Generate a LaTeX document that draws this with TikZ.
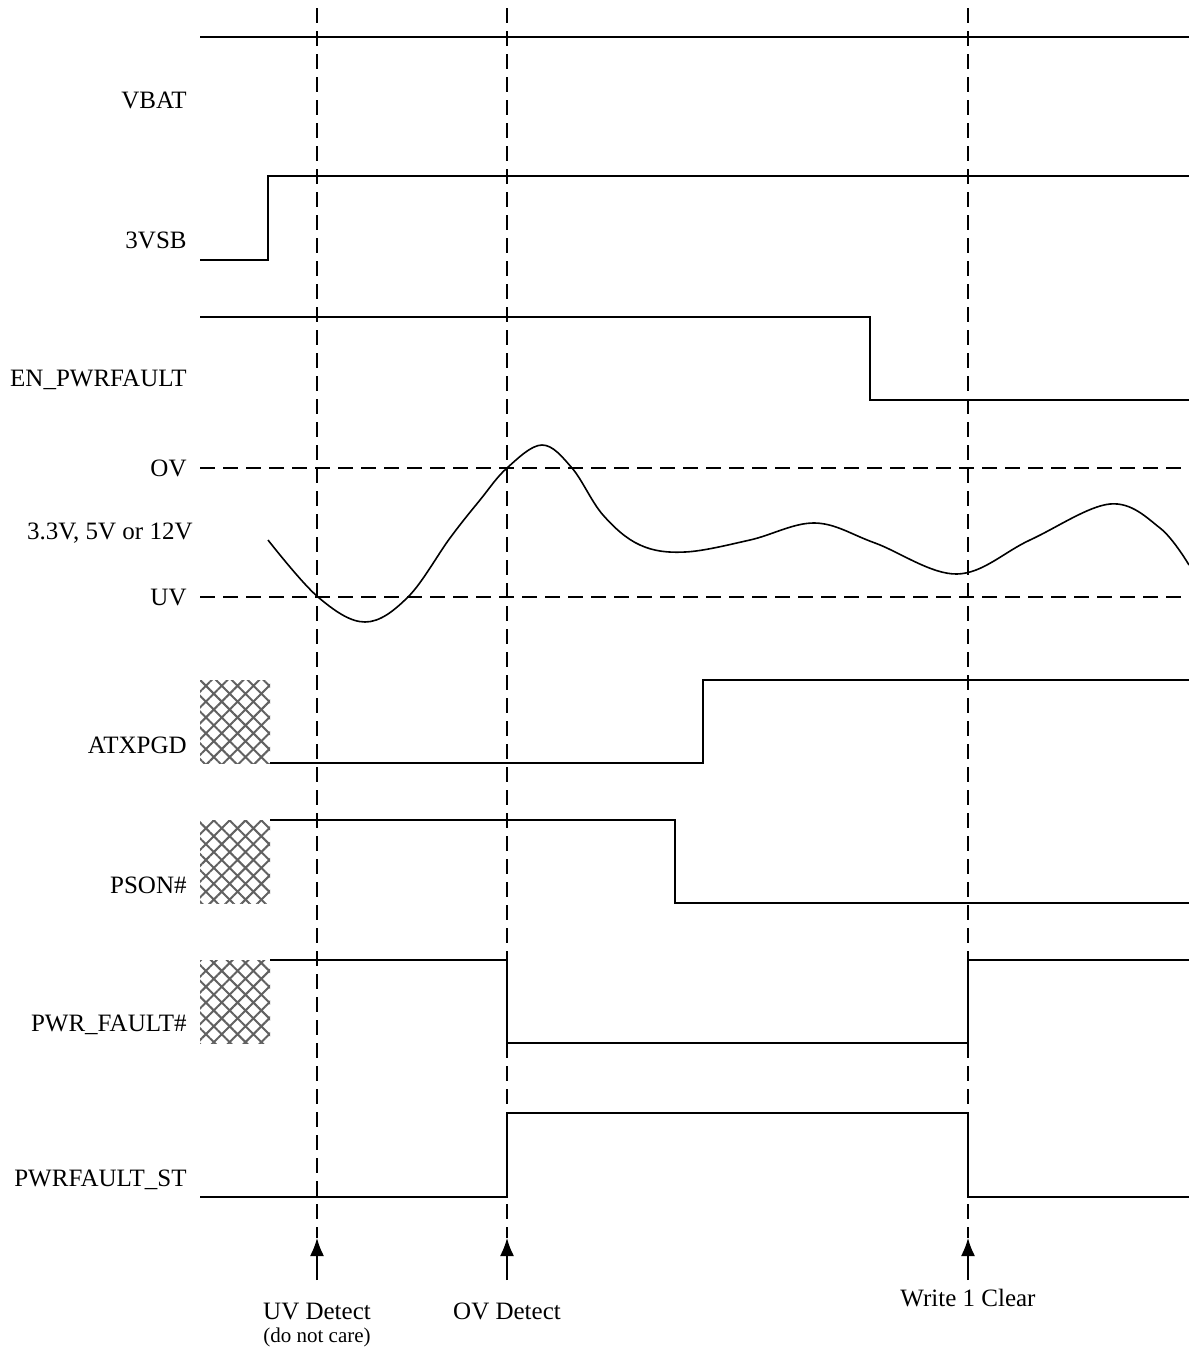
\documentclass[tikz,border=0pt]{standalone}
\usepackage{fontspec}
\setmainfont{Liberation Serif}
\usepackage{tikz}
\usetikzlibrary{arrows.meta,patterns.meta,positioning}
\tikzset{
  sig/.style={line width=.8pt},
  guide/.style={line width=.7pt,dash pattern=on 7.5pt off 4pt},
  lbl/.style={anchor=east,inner sep=0pt,font=\fontsize{12.5}{14}\selectfont},
  evt/.style={inner sep=0pt,font=\fontsize{12.5}{14}\selectfont},
  note/.style={inner sep=0pt,font=\fontsize{10.5}{12}\selectfont},
  dontcare/.style={pattern={Hatch[angle=45,distance=5.6pt,line width=1pt]},pattern color=black!62},
  evtarrow/.style={line width=.8pt,-{Latex[length=9pt,width=7pt]}}
}

\begin{document}
\begin{tikzpicture}[x=.5pt,y=-.5pt]
\path[use as bounding box] (0,0) rectangle (1189,1351);
\fill[white] (0,0) rectangle (1189,1351);
% event guides
\coordinate (uvtop) at (317,8);
\coordinate (ovtop) at (507,8);
\coordinate (wctop) at (968,8);
\coordinate (uvbot) at (317,1238);
\coordinate (ovbot) at (507,1238);
\coordinate (wcbot) at (968,1238);
\draw[guide] (uvtop) -- (uvbot);
\draw[guide] (ovtop) -- (ovbot);
\draw[guide] (wctop) -- (wcbot);
% VBAT
\node[lbl] (vbat) at (187,100) {VBAT};
\draw[sig] (200,37) -- (1189,37);
% 3VSB
\node[lbl] (vsb) at (187,240) {3VSB};
\draw[sig] (200,260) -- (268,260) -- (268,176) -- (1189,176);
% EN_PWRFAULT
\node[lbl] (enpf) at (187,380) {EN\_PWRFAULT};
\draw[sig] (200,317) -- (870,317) -- (870,400) -- (1189,400);
% rail with OV / UV thresholds
\node[lbl] (ov) at (187,468) {OV};
\node[lbl] (rail) at (193,533) {3.3V, 5V or 12V};
\node[lbl] (uv) at (187,597) {UV};
\draw[guide] (200,468) -- (1189,468);
\draw[guide] (200,597) -- (1189,597);
\draw[sig] plot[smooth,tension=.6] coordinates {(268,540) (318,597) (365,622) (408,597)
  (450,538) (480,500) (507,468) (542,445) (572,468) (603,515) (640,545) (685,552)
  (750,540) (815,523) (875,543) (957,574) (1030,540) (1110,504) (1160,528) (1189,565)};
% ATXPGD
\node[lbl] (atx) at (187,745) {ATXPGD};
\fill[dontcare] (200,680) rectangle (270,763);
\draw[sig] (270,763) -- (703,763) -- (703,680) -- (1189,680);
% PSON#
\node[lbl] (pson) at (187,885) {PSON\#};
\fill[dontcare] (200,820) rectangle (270,903);
\draw[sig] (270,820) -- (675,820) -- (675,903) -- (1189,903);
% PWR_FAULT#
\node[lbl] (pwrf) at (187,1025) {PWR\_FAULT\#};
\fill[dontcare] (200,960) rectangle (270,1043);
\draw[sig] (270,960) -- (507,960) -- (507,1043) -- (968,1043) -- (968,960) -- (1189,960);
% PWRFAULT_ST
\node[lbl] (pfst) at (187,1180) {PWRFAULT\_ST};
\draw[sig] (200,1197) -- (507,1197) -- (507,1113) -- (968,1113) -- (968,1197) -- (1189,1197);
% events
\node[evt] (uvdet) at (317,1311) {UV Detect};
\node[note,below=4pt of uvdet] (uvnote) {(do not care)};
\node[evt] (ovdet) at (507,1311) {OV Detect};
\node[evt] (wclr) at (968,1298) {Write 1 Clear};
\coordinate (uvtail) at (317,1280);
\coordinate (ovtail) at (507,1280);
\coordinate (wctail) at (968,1280);
\draw[evtarrow] (uvtail) -- (uvbot);
\draw[evtarrow] (ovtail) -- (ovbot);
\draw[evtarrow] (wctail) -- (wcbot);
\end{tikzpicture}
\end{document}
